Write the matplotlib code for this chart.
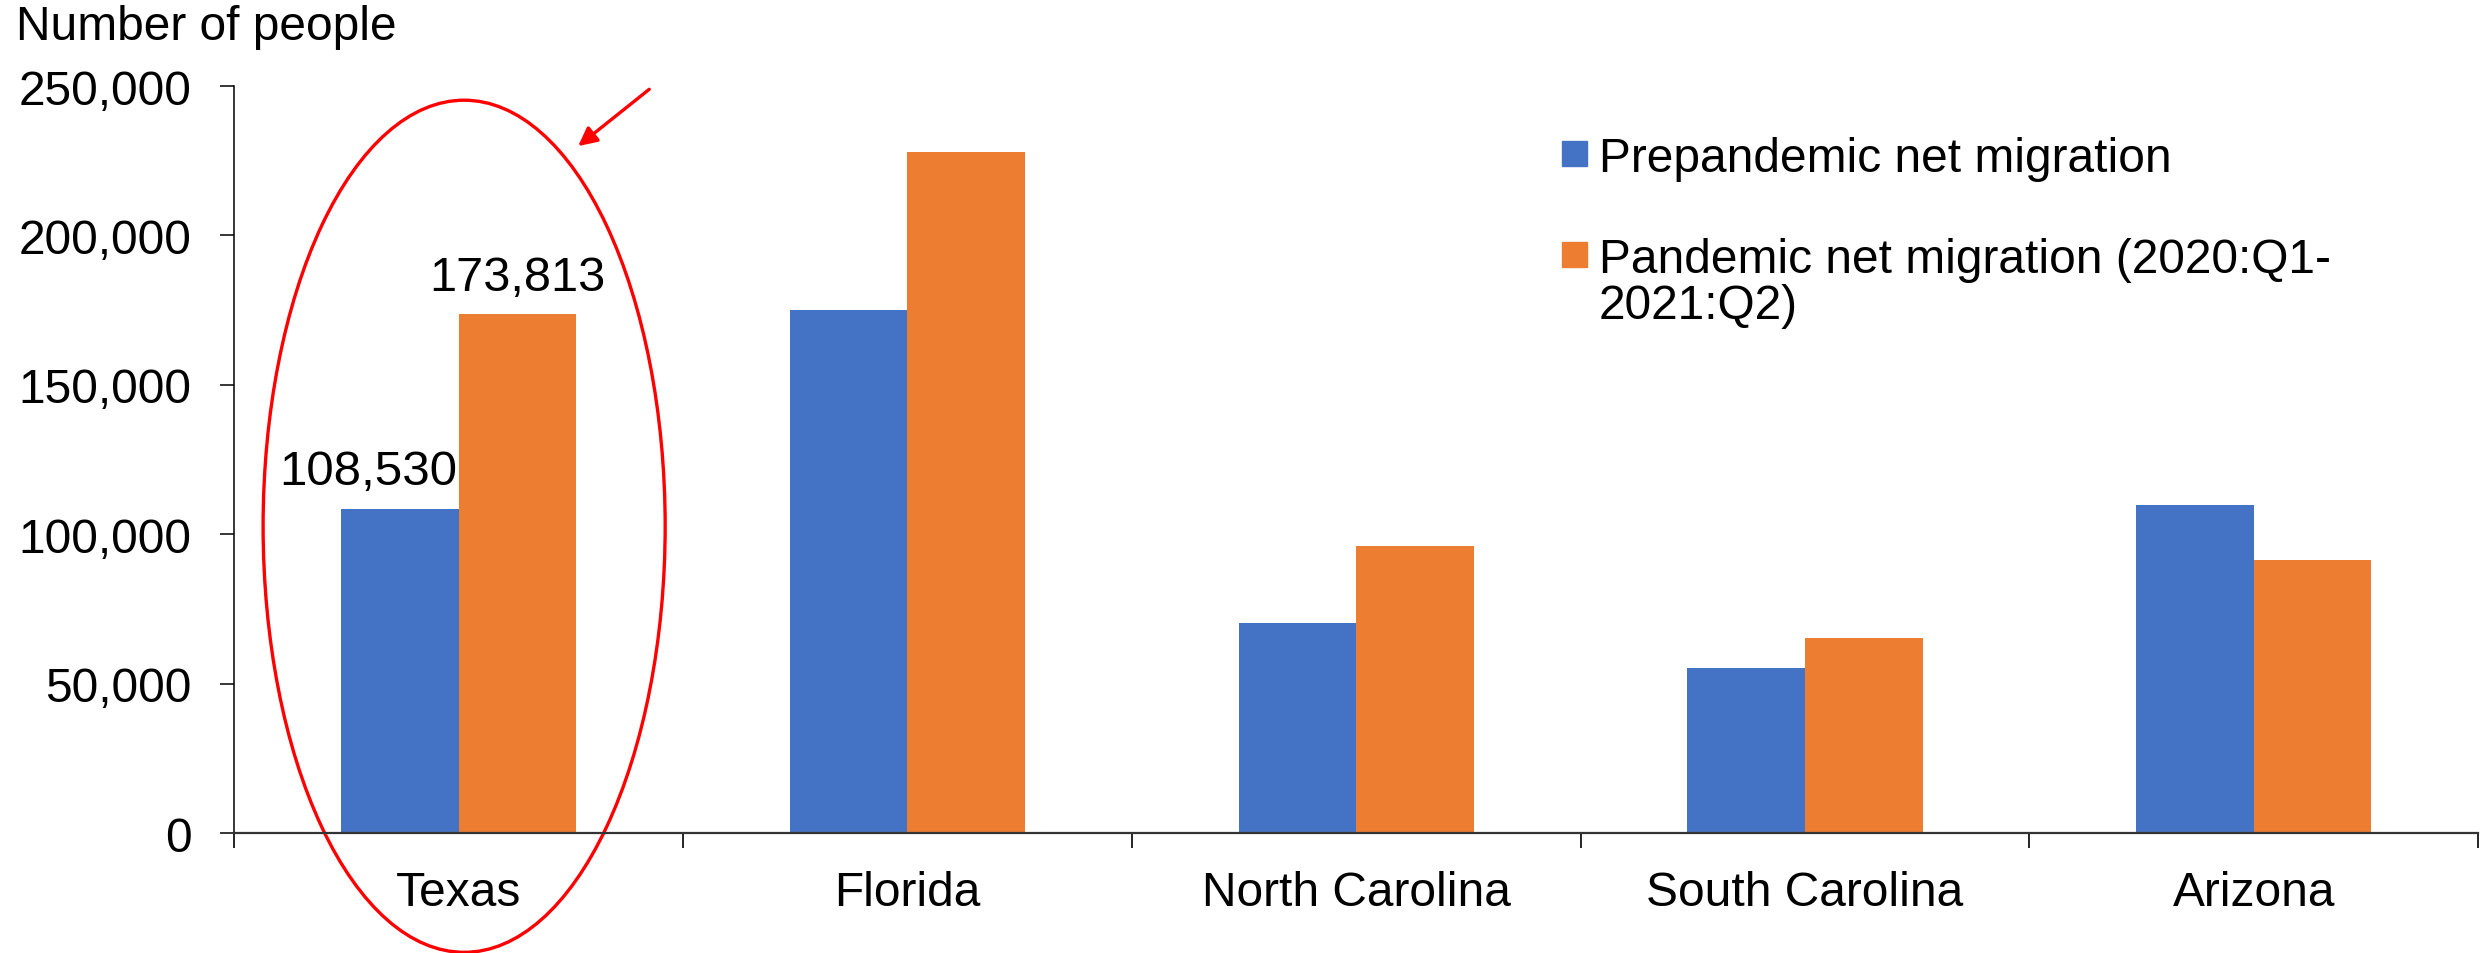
import numpy as np
import matplotlib
matplotlib.use("Agg")
import matplotlib.pyplot as plt
from matplotlib.patches import Ellipse, Rectangle
from matplotlib.ticker import FuncFormatter

plt.rcParams['font.family'] = ['Liberation Sans', 'DejaVu Sans']

# net migration by state
states = ['Texas', 'Florida', 'North Carolina', 'South Carolina', 'Arizona']
prepandemic = [108530, 175000, 70500, 55500, 110000]
pandemic = [173813, 228000, 96000, 65500, 91500]
series_names = ['Prepandemic net migration',
                'Pandemic net migration (2020:Q1-\n2021:Q2)']
yticks = [0, 50000, 100000, 150000, 200000, 250000]

blue = '#4472C4'
orange = '#ED7D31'
fs = 34.5

fig = plt.figure(figsize=(24.83, 9.54), dpi=100)
ax = fig.add_axes([0.0944, 0.1253, 0.9036, 0.7835])

x = np.arange(len(states))
w = 0.262
ax.bar(x - w / 2, prepandemic, w, color=blue)
ax.bar(x + w / 2, pandemic, w, color=orange)

ax.set_xlim(-0.5, len(states) - 0.5)
ax.set_ylim(0, 250000)
ax.set_yticks(yticks)
ax.yaxis.set_major_formatter(FuncFormatter(lambda v, p: f'{int(v):,}'))

# category labels at centres, tick marks on group boundaries
ax.set_xticks(x)
ax.set_xticklabels(states)
ax.set_xticks(np.arange(len(states) + 1) - 0.5, minor=True)
ax.tick_params(axis='x', which='major', length=0, pad=26, labelsize=fs)
ax.tick_params(axis='x', which='minor', length=11, width=1.2, color='black')
ax.tick_params(axis='y', length=10, width=1.1, pad=21, labelsize=fs)

for s in ['top', 'right']:
    ax.spines[s].set_visible(False)
ax.spines['left'].set_linewidth(1.1)
ax.spines['bottom'].set_linewidth(1.6)
ax.spines['bottom'].set_color('#333333')

# value labels for Texas
ax.annotate(f'{prepandemic[0]:,}', (x[0] - w / 2, prepandemic[0]),
            xytext=(-23, 27), textcoords='offset points',
            ha='center', va='center', fontsize=35.5)
ax.annotate(f'{pandemic[0]:,}', (x[0] + w / 2, pandemic[0]),
            xytext=(0, 26), textcoords='offset points',
            ha='center', va='center', fontsize=35)

# highlight Texas
ell = Ellipse((0.012, 102750), 0.896, 285000, fill=False,
              edgecolor='red', lw=2.4, clip_on=False)
ax.add_patch(ell)
ax.annotate('', xy=(0.266, 229900), xytext=(0.4245, 248900),
            arrowprops=dict(arrowstyle='-|>', color='red', lw=2.4,
                            mutation_scale=28, shrinkA=0, shrinkB=0),
            annotation_clip=False)

# legend, square lined up with the first line of each entry
leg_y = [0.9097, 0.7746]
line_step = 0.0614
for name, col, yy in zip(series_names, [blue, orange], leg_y):
    ax.add_patch(Rectangle((0.5917, yy - 0.0167), 0.01114, 0.0334,
                           color=col, transform=ax.transAxes, clip_on=False))
    for k, line in enumerate(name.split('\n')):
        ax.text(0.6082, yy - k * line_step, line, transform=ax.transAxes,
                fontsize=fs, ha='left', va='center_baseline')

fig.text(16 / 2483, 1 - 28 / 954, 'Number of people', fontsize=fs,
         ha='left', va='center')

fig.savefig('out.png', dpi=100)
